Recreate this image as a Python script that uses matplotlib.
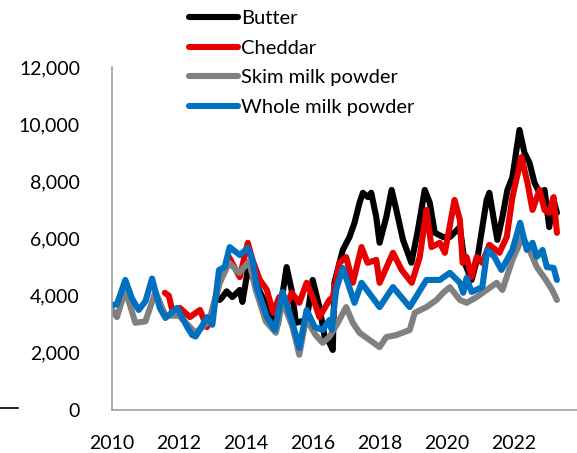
import numpy as np
import matplotlib
matplotlib.use('Agg')
import matplotlib.pyplot as plt
from matplotlib.lines import Line2D

plt.rcParams['font.family'] = ['Lato', 'DejaVu Sans']

# 数据 (decimal year, value)
butter_t = [2013.22, 2013.3, 2013.43, 2013.6, 2013.82, 2013.9, 2014.06, 2014.2, 2014.5, 2014.82, 2014.96,
            2015.22, 2015.37, 2015.5, 2015.82, 2016.0, 2016.2, 2016.36, 2016.5, 2016.6, 2016.65, 2016.9,
            2017.1, 2017.25, 2017.4, 2017.5, 2017.65, 2017.75, 2017.9, 2018.0, 2018.2, 2018.36, 2018.5,
            2018.7, 2018.95, 2019.13, 2019.35, 2019.5, 2019.65, 2019.9, 2020.1, 2020.4, 2020.54, 2020.75,
            2020.93, 2021.2, 2021.28, 2021.43, 2021.52, 2021.67, 2021.82, 2021.97, 2022.18, 2022.33,
            2022.48, 2022.63, 2022.78, 2022.93, 2023.07, 2023.2, 2023.3]
butter_v = [3850, 3950, 4150, 3950, 4200, 3780, 4900, 4650, 3950, 3150, 3000,
            5000, 4200, 3050, 3150, 4550, 3600, 2550, 2350, 2100, 4450, 5600,
            6050, 6550, 7250, 7600, 7450, 7600, 6750, 5850, 6750, 7700, 7000,
            5950, 5150, 6200, 7700, 7250, 6200, 6050, 6050, 6400, 5150, 4550,
            5350, 7350, 7600, 6550, 5950, 6750, 7700, 8150, 9800, 9000,
            8650, 7950, 7600, 7700, 6400, 7350, 6900]

cheddar_t = [2011.58, 2011.7, 2011.8, 2012.03, 2012.33, 2012.63, 2012.84, 2013.0, 2013.2, 2013.5, 2013.82,
             2014.06, 2014.2, 2014.42, 2014.63, 2014.82, 2015.0, 2015.2, 2015.37, 2015.6, 2015.82, 2016.0,
             2016.2, 2016.5, 2016.6, 2016.8, 2017.0, 2017.2, 2017.46, 2017.64, 2017.9, 2018.0, 2018.4,
             2018.66, 2018.96, 2019.2, 2019.4, 2019.55, 2019.8, 2019.95, 2020.24, 2020.4, 2020.48, 2020.6,
             2020.75, 2020.9, 2021.07, 2021.28, 2021.58, 2021.8, 2021.97, 2022.24, 2022.42, 2022.57,
             2022.78, 2022.93, 2023.07, 2023.2, 2023.3]
cheddar_v = [4100, 4000, 3500, 3570, 3250, 3500, 2900, 3400, 4400, 5350, 4650,
             5850, 5250, 4550, 4200, 3400, 3950, 3570, 4100, 3750, 4450, 3950,
             3250, 3850, 3950, 5150, 5350, 4450, 5700, 5150, 5250, 4450, 5500,
             4900, 4450, 5350, 7000, 5700, 5850, 5500, 7350, 6650, 5150, 5350,
             4650, 5350, 5150, 5780, 5500, 6050, 7450, 8850, 7950, 7000,
             7700, 7000, 6900, 7450, 6200]

skim_t = [2010.0, 2010.15, 2010.4, 2010.7, 2011.0, 2011.3, 2011.6, 2012.0, 2012.5, 2012.9, 2013.2,
          2013.5, 2013.8, 2014.1, 2014.3, 2014.6, 2014.9, 2015.1, 2015.4, 2015.6, 2015.8, 2016.1,
          2016.3, 2016.5, 2016.75, 2017.0, 2017.2, 2017.4, 2017.7, 2018.0, 2018.2, 2018.5, 2018.9,
          2019.05, 2019.4, 2019.7, 2019.9, 2020.1, 2020.4, 2020.6, 2020.9, 2021.2, 2021.5, 2021.67,
          2021.97, 2022.27, 2022.48, 2022.7, 2022.97, 2023.16, 2023.3]
skim_v = [3500, 3250, 4200, 3050, 3100, 4130, 3300, 3300, 2700, 3100, 4400,
          5150, 4800, 5200, 4200, 3100, 2700, 3800, 2900, 1930, 3200, 2600,
          2350, 2560, 3050, 3600, 3050, 2700, 2450, 2200, 2550, 2620, 2800,
          3400, 3600, 3850, 4100, 4300, 3850, 3750, 3950, 4200, 4450, 4200,
          5250, 6050, 5600, 5000, 4550, 4200, 3850]

wmp_t = [2010.0, 2010.15, 2010.4, 2010.6, 2010.8, 2011.0, 2011.2, 2011.43, 2011.6, 2011.95, 2012.25,
         2012.4, 2012.5, 2012.85, 2013.0, 2013.2, 2013.37, 2013.52, 2013.82, 2014.06, 2014.2, 2014.33,
         2014.63, 2014.87, 2015.1, 2015.37, 2015.6, 2015.82, 2016.06, 2016.3, 2016.5, 2016.57, 2016.7,
         2016.9, 2017.25, 2017.46, 2018.0, 2018.4, 2018.9, 2019.4, 2019.8, 2020.1, 2020.4, 2020.5,
         2020.6, 2020.75, 2021.07, 2021.22, 2021.43, 2021.64, 2021.97, 2022.2, 2022.4, 2022.57,
         2022.7, 2022.87, 2023.0, 2023.2, 2023.3]
wmp_v = [3670, 3700, 4550, 3900, 3500, 3800, 4600, 3570, 3220, 3570, 2900,
         2620, 2570, 3250, 2980, 4900, 5000, 5700, 5420, 5670, 5250, 4300,
         3260, 2800, 4130, 3150, 2170, 3500, 2900, 2800, 3150, 2800, 4200,
         4970, 3750, 4450, 3600, 4300, 3600, 4550, 4550, 4800, 4450, 4100,
         4620, 4130, 4300, 5600, 5360, 4900, 5600, 6550, 5600, 5850,
         5360, 5600, 5000, 4970, 4550]

names = ['Butter', 'Cheddar', 'Skim milk powder', 'Whole milk powder']
colors = ['#000000', '#E60000', '#808080', '#0070C0']

fig = plt.figure(figsize=(5.77, 4.53), dpi=100)
ax = fig.add_axes([0.194, 0.095, 0.806, 0.757])

series = [(butter_t, butter_v), (cheddar_t, cheddar_v), (skim_t, skim_v), (wmp_t, wmp_v)]
for (t, v), c, n in zip(series, colors, names):
    ax.plot(t, v, color=c, lw=4.4, label=n, solid_joinstyle='round', solid_capstyle='round')

ax.set_xlim(2010, 2023.9)
ax.set_ylim(0, 12000)
ax.set_xticks(range(2010, 2024, 2))
ax.set_yticks(range(0, 12001, 2000))
ax.yaxis.set_major_formatter(matplotlib.ticker.FuncFormatter(lambda v, p: f'{int(v):,}'))
ax.tick_params(length=0, labelsize=14)
ax.tick_params(axis='y', pad=23)
ax.tick_params(axis='x', pad=18)
for s in ['top', 'right']:
    ax.spines[s].set_visible(False)
for s in ['left', 'bottom']:
    ax.spines[s].set_color('#A0A0A0')
    ax.spines[s].set_linewidth(1.2)

fig.legend(loc='upper left', bbox_to_anchor=(0.31, 1.0), frameon=False, fontsize=14.5,
           handlelength=2.45, handletextpad=0.12, labelspacing=0.62, borderaxespad=0.1)

fig.add_artist(Line2D([0.0, 0.032], [0.1, 0.1], color='black', lw=1.2))

fig.savefig('out.png', dpi=100)
